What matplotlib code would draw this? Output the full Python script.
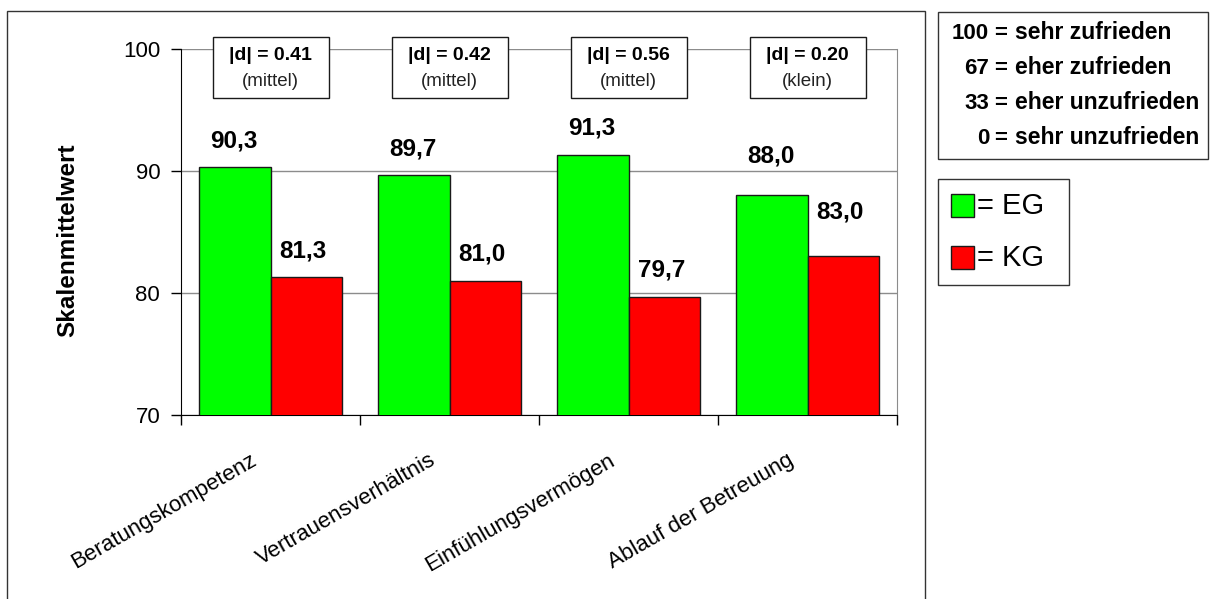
import matplotlib
matplotlib.use("Agg")
import matplotlib.pyplot as plt
import matplotlib.transforms as mtransforms
from matplotlib.patches import Rectangle
import numpy as np

plt.rcParams['font.family'] = ['Liberation Sans', 'DejaVu Sans']

# ---- data ----
categories = ["Beratungskompetenz", "Vertrauensverhältnis", "Einfühlungsvermögen", "Ablauf der Betreuung"]
eg_values = [90.3, 89.7, 91.3, 88.0]
kg_values = [81.3, 81.0, 79.7, 83.0]
d_values = ["0.41", "0.42", "0.56", "0.20"]
d_labels = ["(mittel)", "(mittel)", "(mittel)", "(klein)"]
y_ticks = [70, 80, 90, 100]
scale_numbers = ["100", "67", "33", "0"]
scale_texts = ["sehr zufrieden", "eher zufrieden", "eher unzufrieden", "sehr unzufrieden"]
series_names = ["= EG", "= KG"]

# ---- layout ----
W, H = 1210, 599
fig = plt.figure(figsize=(W / 100, H / 100), dpi=100)
ax = fig.add_axes([181 / W, 1 - 415 / H, (897 - 181) / W, (415 - 49) / H])

GREEN = "#00FF00"
RED = "#FF0000"
bw = 0.398
x = np.arange(len(categories))

ax.bar(x - bw / 2, eg_values, width=bw, color=GREEN, edgecolor="#1a1a1a", linewidth=1.0, zorder=3)
ax.bar(x + bw / 2, kg_values, width=bw, color=RED, edgecolor="#1a1a1a", linewidth=1.0, zorder=3)

ax.set_xlim(-0.5, len(categories) - 0.5)
ax.set_ylim(70, 100)
ax.set_yticks(y_ticks)
ax.set_yticklabels([str(t) for t in y_ticks], fontsize=16)
ax.tick_params(axis="y", length=7, width=1, pad=8, color="black")
ax.grid(axis="y", color="#8c8c8c", linewidth=1.0, zorder=0)
ax.set_axisbelow(True)

# x ticks at category boundaries, no labels
ax.set_xticks(np.arange(-0.5, len(categories), 1.0))
ax.set_xticklabels([])
ax.tick_params(axis="x", length=7, width=1, direction="out", color="black")

ax.spines["top"].set_visible(False)
ax.spines["right"].set_color("#8c8c8c")
ax.spines["left"].set_color("black")
ax.spines["bottom"].set_color("black")

# value labels (pixel offsets above bar tops)
eg_offsets = [26, 26, 27, 39]
kg_offsets = [26, 27, 27, 44]
for i in range(len(categories)):
    ax.annotate(f"{eg_values[i]:.1f}".replace(".", ","), (x[i] - bw / 2, eg_values[i]),
                xytext=(-1, eg_offsets[i] * 0.72), textcoords="offset points",
                ha="center", va="center", fontsize=17.5, fontweight="bold", zorder=5)
    ax.annotate(f"{kg_values[i]:.1f}".replace(".", ","), (x[i] + bw / 2, kg_values[i]),
                xytext=(-2, kg_offsets[i] * 0.72), textcoords="offset points",
                ha="center", va="center", fontsize=17.5, fontweight="bold", zorder=5)

# d boxes
blend = mtransforms.blended_transform_factory(ax.transData, fig.transFigure)
box_w = 116 / 179
for i in range(len(categories)):
    rect = Rectangle((x[i] - box_w / 2, 1 - 98 / H), box_w, (98 - 37) / H,
                     transform=blend, facecolor="white", edgecolor="#1a1a1a",
                     linewidth=1.0, zorder=6, clip_on=False)
    ax.add_patch(rect)
    ax.text(x[i], 1 - 55 / H, f"|d| = {d_values[i]}", transform=blend, ha="center", va="center",
            fontsize=14, fontweight="bold", zorder=7, clip_on=False)
    ax.text(x[i], 1 - 81 / H, d_labels[i], transform=blend, ha="center", va="center",
            fontsize=13.5, zorder=7, clip_on=False, color="#222222")

# category labels rotated
for i, c in enumerate(categories):
    off = mtransforms.ScaledTranslation(-15 / 100, -44 / 100, fig.dpi_scale_trans)
    ax.text(x[i], 0, c, transform=mtransforms.blended_transform_factory(ax.transData, ax.transAxes) + off,
            rotation=30, rotation_mode="anchor", ha="right", va="center", fontsize=16, clip_on=False)

# y label
fig.text(68 / W, 1 - 240 / H, "Skalenmittelwert", rotation=90, ha="center", va="center",
         fontsize=17.5, fontweight="bold")

# outer frame around chart
fig.patches.append(Rectangle((7 / W, -0.05), (925 - 7) / W, 1.05 - 11 / H, transform=fig.transFigure,
                             facecolor="none", edgecolor="#333333", linewidth=1.0))

# scale legend box
fig.patches.append(Rectangle((938 / W, 1 - 159 / H), (1208 - 938) / W, (159 - 12) / H,
                             transform=fig.transFigure, facecolor="white", edgecolor="#333333", linewidth=1.0))
for j, (n, t) in enumerate(zip(scale_numbers, scale_texts)):
    yb = 1 - (39 + j * 35) / H
    fig.text(989 / W, yb, n, ha="right", va="baseline", fontsize=16, fontweight="bold")
    fig.text(1001 / W, yb, "=", ha="center", va="baseline", fontsize=16, fontweight="bold")
    fig.text(1015 / W, yb, t, ha="left", va="baseline", fontsize=16.5, fontweight="bold")

# series legend box
fig.patches.append(Rectangle((938 / W, 1 - 285 / H), (1069 - 938) / W, (285 - 179) / H,
                             transform=fig.transFigure, facecolor="white", edgecolor="#333333", linewidth=1.0))
for j, (name, col) in enumerate(zip(series_names, [GREEN, RED])):
    top = 194 + j * 52
    fig.patches.append(Rectangle((951 / W, 1 - (top + 23) / H), 23 / W, 23 / H,
                                 transform=fig.transFigure, facecolor=col, edgecolor="#1a1a1a", linewidth=1.0))
    fig.text(977 / W, 1 - (top + 12) / H, name, ha="left", va="center", fontsize=21)

fig.savefig("out.png", dpi=100)
